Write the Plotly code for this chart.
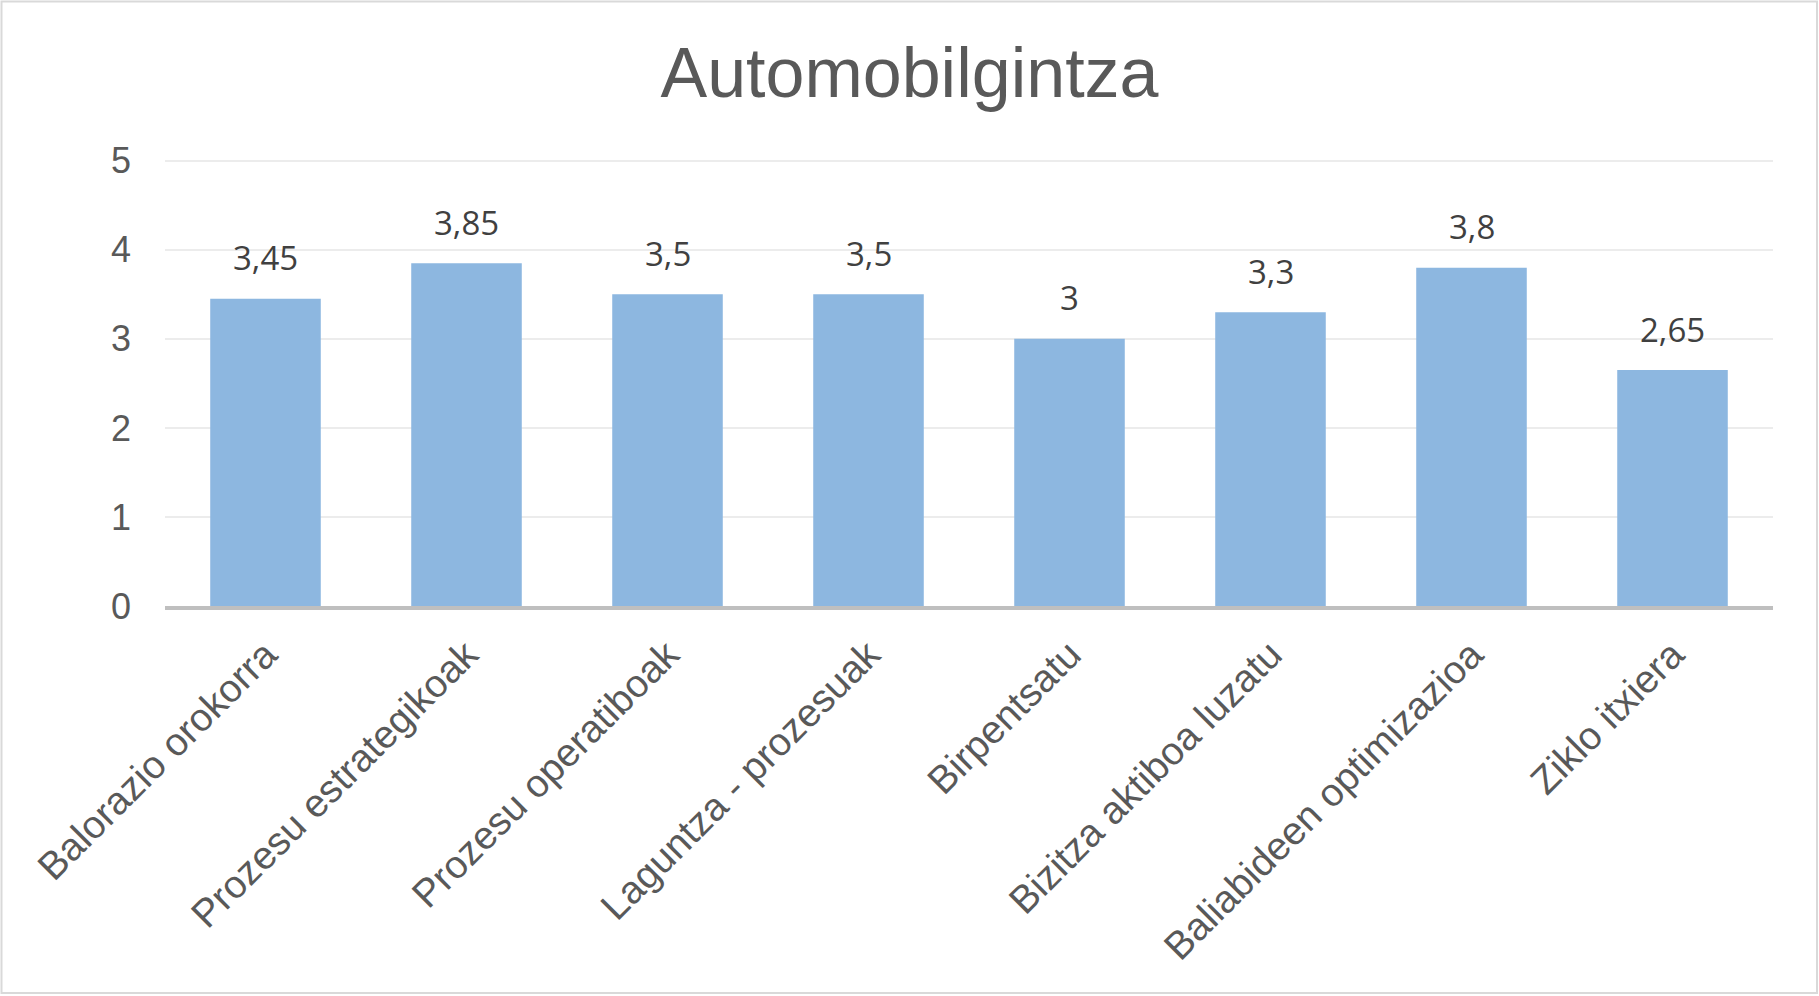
import plotly.graph_objects as go

categories = ["Balorazio orokorra", "Prozesu estrategikoak", "Prozesu operatiboak",
              "Laguntza - prozesuak", "Birpentsatu", "Bizitza aktiboa luzatu",
              "Baliabideen optimizazioa", "Ziklo itxiera"]
values = [3.45, 3.85, 3.5, 3.5, 3.0, 3.3, 3.8, 2.65]
value_labels = ["3,45", "3,85", "3,5", "3,5", "3", "3,3", "3,8", "2,65"]
y_ticks = [0, 1, 2, 3, 4, 5]
title_text = "Automobilgintza"

W, H = 1819, 996
ml, mr, mt, mb = 165, 46, 159, 390
pw, ph = W - ml - mr, H - mt - mb

fig = go.Figure()
fig.add_trace(go.Bar(x=categories, y=values, marker=dict(color="#8db7e0", line=dict(width=0)),
                     hoverinfo="skip"))

for c, v, t in zip(categories, values, value_labels):
    fig.add_annotation(x=c, y=v, text=t, showarrow=False, yanchor="middle", yshift=41,
                       font=dict(family="Open Sans", size=33, color="#404040"))

# chart border
fig.add_shape(type="rect", xref="paper", yref="paper",
              x0=(1.5 - ml) / pw, x1=(W - 2 - ml) / pw,
              y0=-(mb - 3) / ph, y1=(ph + mt - 1.5) / ph,
              line=dict(color="#d9d9d9", width=2), layer="below")

fig.update_layout(
    width=W, height=H,
    margin=dict(l=ml, r=mr, t=mt, b=mb),
    paper_bgcolor="white", plot_bgcolor="white",
    bargap=0.45,
    showlegend=False,
    title=dict(text=title_text, x=0.5, xref="container", xanchor="center",
               y=1 - 72 / H, yref="container", yanchor="middle",
               font=dict(family="Liberation Sans", size=70, color="#595959")),
    xaxis=dict(tickangle=-45, tickfont=dict(family="Liberation Sans", size=39, color="#595959"),
               showgrid=False, showline=True, linecolor="#bfbfbf", linewidth=4,
               ticks="", ticklabelstandoff=6),
    yaxis=dict(range=[0, 5.02], tickvals=y_ticks, ticktext=[str(v) for v in y_ticks],
               tickfont=dict(family="Liberation Sans", size=36, color="#595959"),
               showgrid=True, gridcolor="#ececec", gridwidth=2,
               zeroline=False, showline=False, ticks="", ticklabelstandoff=33),
)

fig.write_html("out.html", config={"displayModeBar": False},
               post_script="document.body.style.margin='0';document.body.style.overflow='hidden';")
